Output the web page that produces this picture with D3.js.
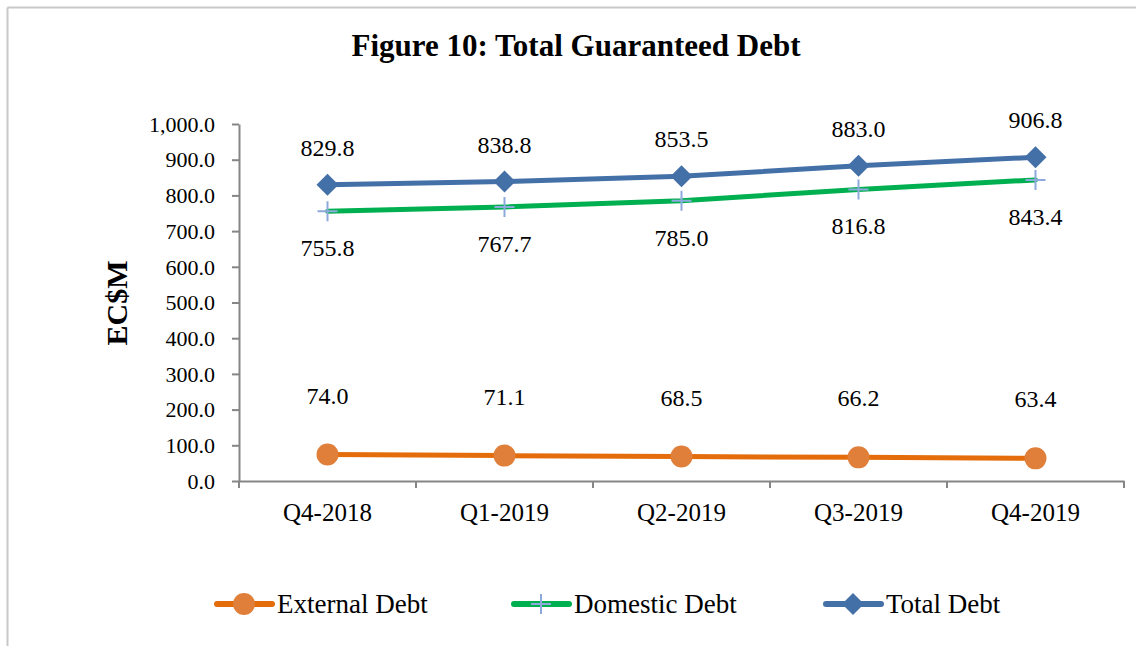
<!DOCTYPE html>
<html><head><meta charset="utf-8">
<script src="https://cdn.jsdelivr.net/npm/d3@7"></script>
<style>html,body{margin:0;padding:0;background:#fff;}svg{display:block;}</style>
</head><body>
<svg id="c" width="1136" height="646"></svg>
<script>
const categories = ["Q4-2018","Q1-2019","Q2-2019","Q3-2019","Q4-2019"];
const externalDebt = [74.0, 71.1, 68.5, 66.2, 63.4];
const domesticDebt = [755.8, 767.7, 785.0, 816.8, 843.4];
const totalDebt = [829.8, 838.8, 853.5, 883.0, 906.8];
const yTicks = [0,100,200,300,400,500,600,700,800,900,1000];
const seriesNames = ["External Debt","Domestic Debt","Total Debt"];

const svg = d3.select("#c");
const font = "'Liberation Serif','DejaVu Serif',serif";
// frame
svg.append("line").attr("x1",7.5).attr("x2",1136).attr("y1",7.5).attr("y2",7.5).attr("stroke","#c8c8c8").attr("stroke-width",2);
svg.append("line").attr("x1",7.5).attr("x2",7.5).attr("y1",7.5).attr("y2",646).attr("stroke","#c8c8c8").attr("stroke-width",2);

const x = d3.scaleBand().domain(categories).range([239,1124]);
const y = d3.scaleLinear().domain([0,1000]).range([481,124]);
const fmt = d3.format(",.1f");

svg.append("text").attr("x",576).attr("y",56).attr("text-anchor","middle")
  .attr("font-family",font).attr("font-weight","bold").attr("font-size",31).text("Figure 10: Total Guaranteed Debt");

const yAxis = svg.append("g").attr("transform","translate(239,0)")
  .call(d3.axisLeft(y).tickValues(yTicks).tickFormat(fmt).tickSize(7).tickSizeOuter(0));
const xAxis = svg.append("g").attr("transform","translate(0,481)")
  .call(d3.axisBottom(x).tickSize(0).tickSizeOuter(0));
const bounds = categories.map(c=>x(c)).concat([x.range()[1]]);
xAxis.selectAll(".bt").data(bounds).enter().append("line").attr("class","bt")
  .attr("x1",d=>d).attr("x2",d=>d).attr("y1",0).attr("y2",7).attr("stroke","#868686").attr("stroke-width",2);
[yAxis,xAxis].forEach(a=>{
  a.select(".domain").attr("stroke","#868686").attr("stroke-width",2);
  a.selectAll(".tick line").attr("stroke","#868686").attr("stroke-width",2);
  a.selectAll(".tick text").attr("font-family",font).attr("fill","#000");
});
yAxis.selectAll(".tick text").attr("x",-24).attr("font-size",22).attr("dy","0.33em");
xAxis.selectAll(".tick text").attr("y",40).attr("dy",0).attr("font-size",25);

svg.append("text").attr("transform","translate(127,303) rotate(-90)").attr("text-anchor","middle")
  .attr("font-family",font).attr("font-weight","bold").attr("font-size",30).text("EC$M");

const cx = c => x(c) + x.bandwidth()/2;
const line = d3.line().x((d,i)=>cx(categories[i])).y(d=>y(d));

const series = [
  {name:seriesNames[0], vals:externalDebt, color:"#E46C0A", marker:"circle", mfill:"#E07F3A", labDy:-51},
  {name:seriesNames[1], vals:domesticDebt, color:"#00B050", marker:"cross", mfill:"#8EA9DB", labDy:45},
  {name:seriesNames[2], vals:totalDebt, color:"#4470A8", marker:"diamond", mfill:"#4470A8", labDy:-29}
];
function drawMarker(g, type, px, py, col){
  if(type==="circle") g.append("circle").attr("cx",px).attr("cy",py).attr("r",11).attr("fill",col);
  else if(type==="diamond") g.append("path").attr("d",`M${px},${py-11}L${px+11},${py}L${px},${py+11}L${px-11},${py}Z`).attr("fill",col);
  else { g.append("path").attr("d",`M${px-10},${py}H${px+10}M${px},${py-10}V${py+10}`).attr("stroke",col).attr("stroke-width",2); }
}
series.forEach(s=>{
  svg.append("path").datum(s.vals).attr("d",line).attr("fill","none").attr("stroke",s.color).attr("stroke-width",5).attr("stroke-linecap","round");
  const g = svg.append("g");
  s.vals.forEach((v,i)=>drawMarker(g,s.marker,cx(categories[i]),y(v),s.mfill));
  svg.append("g").selectAll("text").data(s.vals).enter().append("text")
    .attr("x",(d,i)=>cx(categories[i])).attr("y",d=>y(d)+s.labDy)
    .attr("text-anchor","middle").attr("font-family",font).attr("font-size",24).attr("fill","#000")
    .text(d=>fmt(d));
});

// legend
const legX = [217, 514, 826];
series.forEach((s,i)=>{
  const lx = legX[i], ly = 604;
  svg.append("line").attr("x1",lx).attr("x2",lx+55).attr("y1",ly).attr("y2",ly).attr("stroke",s.color).attr("stroke-width",6).attr("stroke-linecap","round");
  drawMarker(svg, s.marker, lx+27, ly, s.mfill);
  svg.append("text").attr("x",lx+60).attr("y",ly).attr("dy","0.35em").attr("font-family",font).attr("font-size",27).text(s.name);
});
</script>
</body></html>
